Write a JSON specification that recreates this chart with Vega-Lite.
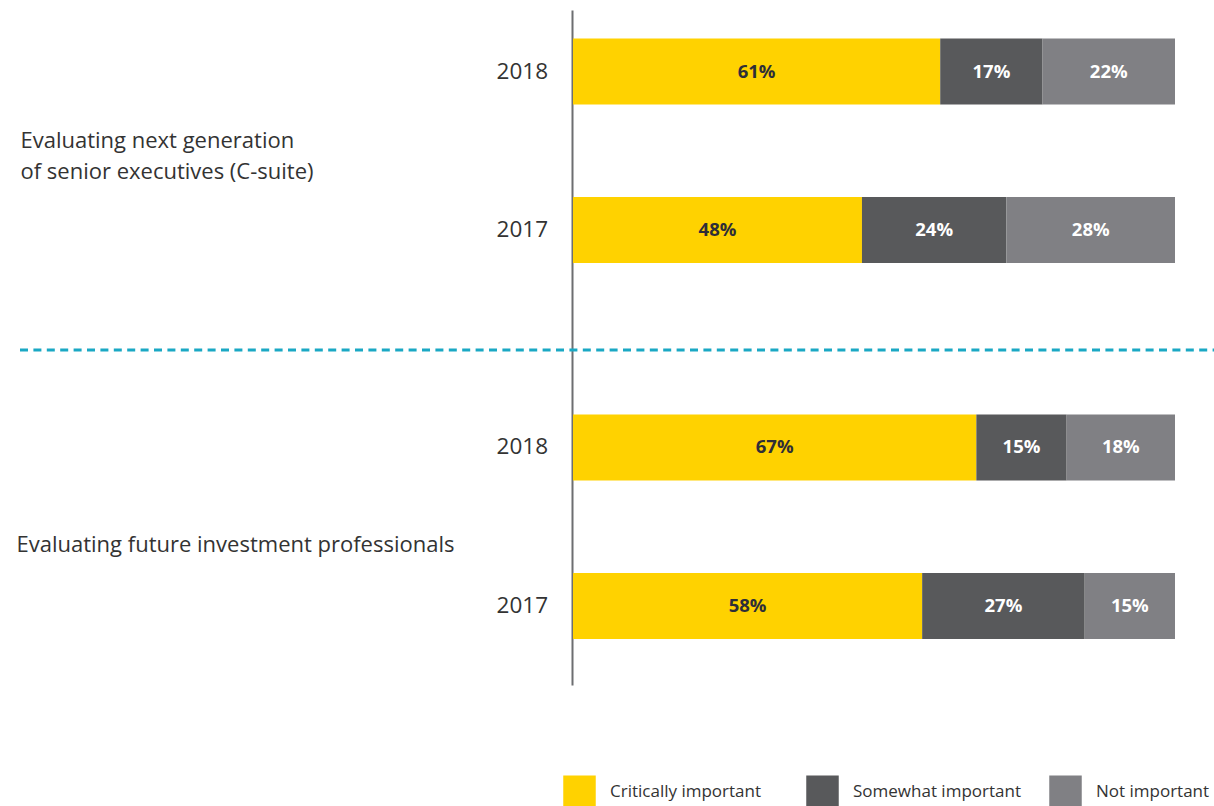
{
  "$schema": "https://vega.github.io/schema/vega-lite/v6.json",
  "width": 602,
  "height": 675,
  "autosize": {"type": "none"},
  "padding": {"left": 573, "top": 10, "right": 39, "bottom": 121},
  "background": "white",
  "config": {"view": {"stroke": null}, "font": "Open Sans"},
  "data": {
    "values": [
      {"group": "Evaluating next generation of senior executives (C-suite)", "year": "2018", "category": "Critically important", "value": 61},
      {"group": "Evaluating next generation of senior executives (C-suite)", "year": "2018", "category": "Somewhat important", "value": 17},
      {"group": "Evaluating next generation of senior executives (C-suite)", "year": "2018", "category": "Not important", "value": 22},
      {"group": "Evaluating next generation of senior executives (C-suite)", "year": "2017", "category": "Critically important", "value": 48},
      {"group": "Evaluating next generation of senior executives (C-suite)", "year": "2017", "category": "Somewhat important", "value": 24},
      {"group": "Evaluating next generation of senior executives (C-suite)", "year": "2017", "category": "Not important", "value": 28},
      {"group": "Evaluating future investment professionals", "year": "2018", "category": "Critically important", "value": 67},
      {"group": "Evaluating future investment professionals", "year": "2018", "category": "Somewhat important", "value": 15},
      {"group": "Evaluating future investment professionals", "year": "2018", "category": "Not important", "value": 18},
      {"group": "Evaluating future investment professionals", "year": "2017", "category": "Critically important", "value": 58},
      {"group": "Evaluating future investment professionals", "year": "2017", "category": "Somewhat important", "value": 27},
      {"group": "Evaluating future investment professionals", "year": "2017", "category": "Not important", "value": 15}
    ]
  },
  "layer": [
    {
      "transform": [{"calculate": "indexof(['Critically important','Somewhat important','Not important'], datum.category)", "as": "rank"}],
      "mark": {"type": "bar", "cornerRadius": 0},
      "encoding": {
        "y": {
          "field": "group", "type": "nominal",
          "sort": ["Evaluating next generation of senior executives (C-suite)", "Evaluating future investment professionals"],
          "scale": {"paddingInner": 0.4029, "paddingOuter": 0.0991, "align": 0.3826},
          "axis": {
            "title": null, "ticks": false, "grid": false, "domain": true,
            "domainColor": "#6d6e71", "domainWidth": 2, "offset": 1,
            "labelAlign": "left", "labelBaseline": "middle",
            "labelPadding": {"condition": {"test": "datum.value == 'Evaluating future investment professionals'", "value": 556}, "value": 552},
            "labelOffset": {"condition": {"test": "datum.value == 'Evaluating future investment professionals'", "value": 18}, "value": -10},
            "labelExpr": "datum.value == 'Evaluating next generation of senior executives (C-suite)' ? ['Evaluating next generation', 'of senior executives (C-suite)'] : datum.value",
            "labelFontSize": 22, "labelColor": "#333333", "labelLimit": 0, "labelLineHeight": 31,
            "labelOverlap": false, "labelBound": false
          }
        },
        "yOffset": {"field": "year", "type": "nominal", "sort": ["2018", "2017"], "scale": {"paddingInner": 0.5836, "paddingOuter": 0}},
        "x": {"field": "value", "type": "quantitative", "stack": "zero", "scale": {"domain": [0, 100]}, "axis": null},
        "order": {"field": "rank", "type": "quantitative"},
        "color": {
          "field": "category", "type": "nominal",
          "scale": {"domain": ["Critically important", "Somewhat important", "Not important"], "range": ["#FFD200", "#58595B", "#808084"]},
          "legend": {
            "title": null, "orient": "none", "legendX": -10, "legendY": 765,
            "direction": "horizontal", "symbolType": "square", "symbolSize": 1056,
            "symbolStrokeWidth": 0, "symbolOpacity": 1, "labelFontSize": 17,
            "labelColor": "#333333", "labelOffset": 14, "columnPadding": 28,
            "gridAlign": "all", "labelLimit": 0, "padding": 0
          }
        }
      }
    },
    {
      "transform": [{"filter": "datum.category == 'Critically important'"}],
      "mark": {"type": "text", "align": "right", "baseline": "middle", "fontSize": 22.5, "color": "#333333"},
      "encoding": {
        "y": {"field": "group", "type": "nominal", "sort": ["Evaluating next generation of senior executives (C-suite)", "Evaluating future investment professionals"]},
        "yOffset": {"field": "year", "type": "nominal", "sort": ["2018", "2017"]},
        "x": {"datum": -4.15, "type": "quantitative", "scale": {"domain": [0, 100]}},
        "text": {"field": "year"}
      }
    },
    {
      "transform": [
        {"calculate": "indexof(['Critically important','Somewhat important','Not important'], datum.category)", "as": "rank"},
        {"stack": "value", "groupby": ["group", "year"], "sort": [{"field": "rank", "order": "ascending"}], "as": ["v0", "v1"]},
        {"calculate": "(datum.v0 + datum.v1) / 2", "as": "mid"},
        {"calculate": "datum.value + '%'", "as": "label"}
      ],
      "mark": {"type": "text", "align": "center", "baseline": "middle", "fontSize": 18.5, "fontWeight": "bold"},
      "encoding": {
        "y": {"field": "group", "type": "nominal", "sort": ["Evaluating next generation of senior executives (C-suite)", "Evaluating future investment professionals"]},
        "yOffset": {"field": "year", "type": "nominal", "sort": ["2018", "2017"]},
        "x": {"field": "mid", "type": "quantitative", "scale": {"domain": [0, 100]}},
        "text": {"field": "label"},
        "color": {"condition": {"test": "datum.category == 'Critically important'", "value": "#2e2e38"}, "value": "#ffffff"}
      }
    },
    {
      "data": {"values": [{"name": "divider"}]},
      "mark": {"type": "rule", "color": "#1aa8c4", "strokeWidth": 3, "strokeDash": [8, 5.4]},
      "encoding": {
        "y": {"datum": "Evaluating future investment professionals", "type": "nominal", "bandPosition": -0.287},
        "x": {"datum": -91.86, "type": "quantitative", "scale": {"domain": [0, 100]}},
        "x2": {"datum": 106.48}
      }
    }
  ]
}
